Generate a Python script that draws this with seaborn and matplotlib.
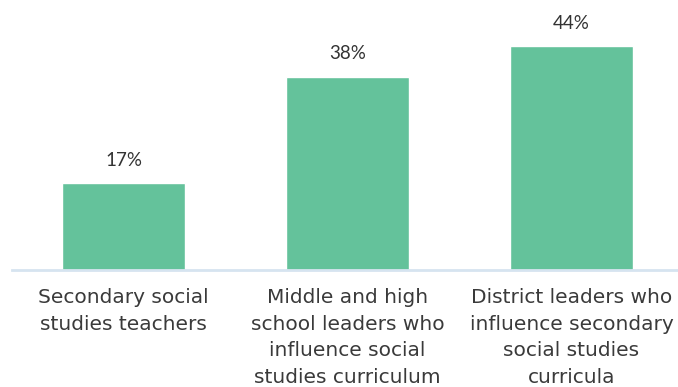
import matplotlib
matplotlib.use("Agg")
import matplotlib.pyplot as plt
import seaborn as sns
import pandas as pd

categories = [
    "Secondary social\nstudies teachers",
    "Middle and high\nschool leaders who\ninfluence social\nstudies curriculum",
    "District leaders who\ninfluence secondary\nsocial studies\ncurricula",
]
values = [17, 38, 44]
value_labels = ["17%", "38%", "44%"]

df = pd.DataFrame({"group": categories, "pct": values})

sns.set_theme(style="white")
plt.rcParams["font.family"] = ["DejaVu Sans"]

fig = plt.figure(figsize=(6.78, 3.87), dpi=100)
ax = fig.add_axes([11.5 / 678, 117 / 387, 672 / 678, 254.5 / 387])

sns.barplot(data=df, x="group", y="pct", color="#64C29B", saturation=1,
            width=0.55, ax=ax)

ax.set_ylim(0, 50)
ax.set_xlim(-0.5, 2.5)
for s in ["top", "right", "left"]:
    ax.spines[s].set_visible(False)
ax.spines["bottom"].set_color("#D6E4F0")
ax.spines["bottom"].set_linewidth(2)
ax.set_yticks([])
ax.set_xlabel("")
ax.set_ylabel("")
ax.tick_params(axis="x", length=0, pad=13)
for lbl in ax.get_xticklabels():
    lbl.set_fontsize(14.5)
    lbl.set_color("#3A3A3A")
    lbl.set_linespacing(1.5)
    lbl.set_verticalalignment("top")

for i, (v, t) in enumerate(zip(values, value_labels)):
    ax.annotate(t, (i, v), xytext=(0, 23), textcoords="offset pixels",
                ha="center", va="center", fontsize=13.5, color="#333333",
                family=["Lato", "DejaVu Sans"])

fig.savefig("out.png", dpi=100)
